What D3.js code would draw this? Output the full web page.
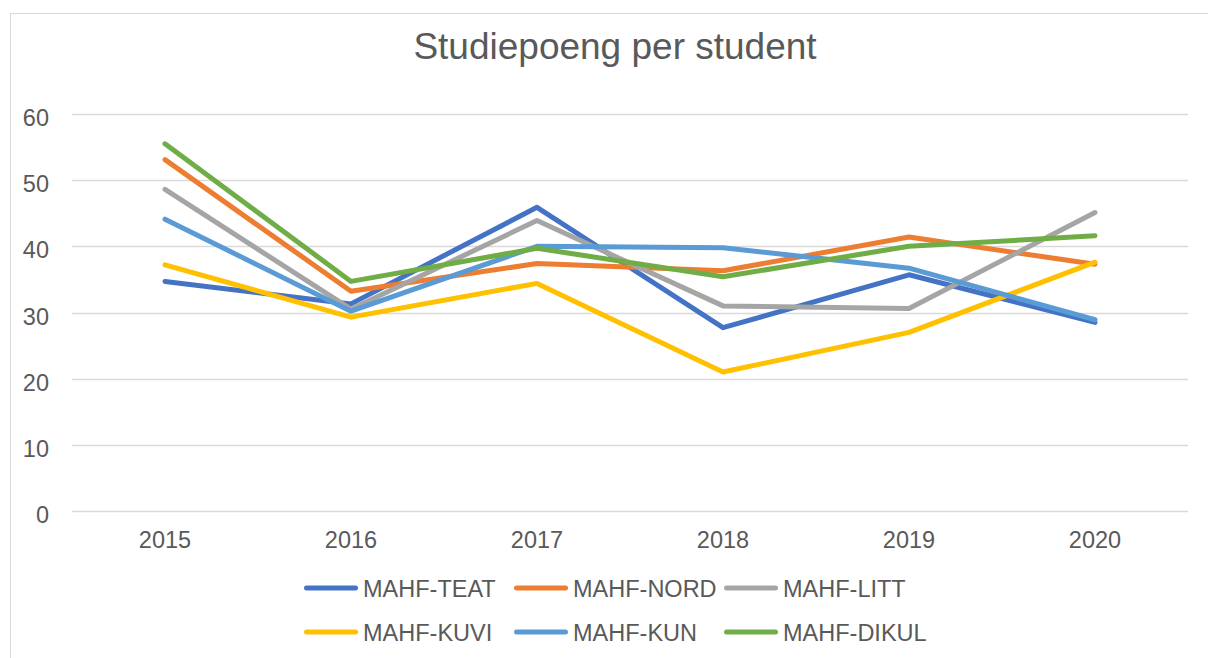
<!DOCTYPE html>
<html><head><meta charset="utf-8">
<script src="https://cdn.jsdelivr.net/npm/d3@7"></script>
<style>body{margin:0;background:#fff}svg{display:block}text{font-family:"Liberation Sans",Arial,sans-serif}</style>
</head><body><svg id="c" width="1208" height="658"></svg>
<script>
const years = ["2015","2016","2017","2018","2019","2020"];
const seriesNames = ["MAHF-TEAT","MAHF-NORD","MAHF-LITT","MAHF-KUVI","MAHF-KUN","MAHF-DIKUL"];
const teat  = [34.7, 31.3, 45.9, 27.7, 35.7, 28.5];
const nord  = [53.1, 33.2, 37.4, 36.3, 41.4, 37.3];
const litt  = [48.6, 30.5, 43.9, 31.0, 30.6, 45.1];
const kuvi  = [37.2, 29.3, 34.4, 21.0, 27.0, 37.6];
const kun   = [44.1, 30.2, 40.0, 39.8, 36.7, 28.9];
const dikul = [55.5, 34.7, 39.7, 35.4, 40.0, 41.6];
const yTicks = [0,10,20,30,40,50,60];
const colors = ["#4472C4","#ED7D31","#A5A5A5","#FFC000","#5B9BD5","#70AD47"];
const values = [teat, nord, litt, kuvi, kun, dikul];

const svg = d3.select("#c");
svg.append("rect").attr("x",10.5).attr("y",13.5).attr("width",1220).attr("height",700)
  .attr("fill","#fff").attr("stroke","#d9d9d9").attr("stroke-width",1);

const x = d3.scaleBand().domain(years).range([72,1188]);
const y = d3.scaleLinear().domain([0,60]).range([511,114]);

svg.append("text").attr("x",615).attr("y",59).attr("text-anchor","middle")
  .attr("font-size",37).attr("fill","#595959").text("Studiepoeng per student");

// gridlines
svg.append("g").selectAll("line").data(yTicks).join("line")
  .attr("x1",72).attr("x2",1188).attr("y1",d=>Math.round(y(d))+0.5).attr("y2",d=>Math.round(y(d))+0.5)
  .attr("stroke","#d9d9d9").attr("stroke-width",1.5);

svg.append("g").selectAll("text").data(yTicks).join("text")
  .attr("x",49).attr("y",d=>y(d)+12).attr("text-anchor","end")
  .attr("font-size",23.5).attr("fill","#595959").text(d=>d);

svg.append("g").selectAll("text").data(years).join("text")
  .attr("x",d=>x(d)+x.bandwidth()/2).attr("y",548).attr("text-anchor","middle")
  .attr("font-size",23.5).attr("fill","#595959").text(d=>d);

const line = d3.line().x((d,i)=>x(years[i])+x.bandwidth()/2).y(d=>y(d));
values.forEach((v,i)=>{
  svg.append("path").datum(v).attr("d",line).attr("fill","none")
    .attr("stroke",colors[i]).attr("stroke-width",5)
    .attr("stroke-linecap","round").attr("stroke-linejoin","round");
});

// legend
const colX = [304,514,724];
const rowY = [588,632];
seriesNames.forEach((n,i)=>{
  const cx = colX[i%3], cy = rowY[Math.floor(i/3)];
  const g = svg.append("g");
  g.append("line").attr("x1",cx+2.5).attr("x2",cx+51.5).attr("y1",cy).attr("y2",cy)
    .attr("stroke",colors[i]).attr("stroke-width",5).attr("stroke-linecap","round");
  g.append("text").attr("x",cx+59).attr("y",cy+8.5).attr("font-size",23.5).attr("fill","#595959").text(n);
});
</script></body></html>
